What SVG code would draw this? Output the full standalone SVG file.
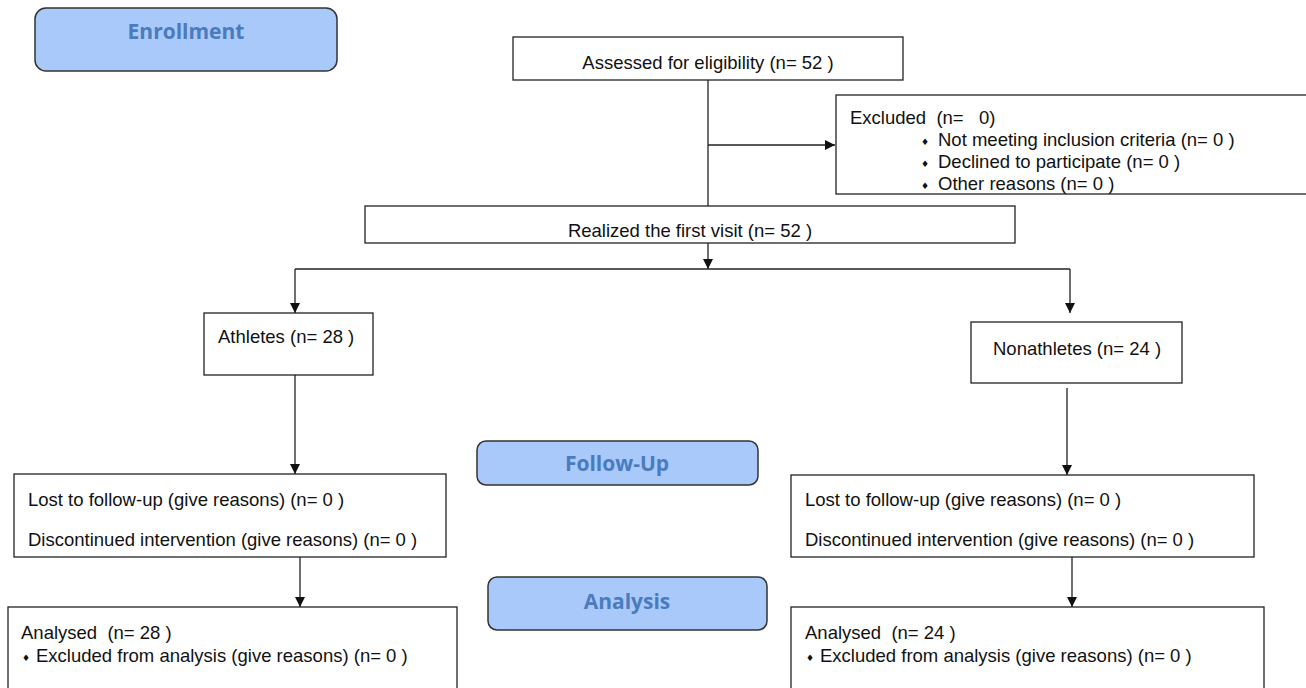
<svg xmlns="http://www.w3.org/2000/svg" width="1306" height="688" viewBox="0 0 1306 688">
<style>
.box{fill:#fff;stroke:#222;stroke-width:1.3}
.phase{fill:#a9c9fa;stroke:#333;stroke-width:1.5}
.t{font-family:"Liberation Sans",Arial,sans-serif;font-size:18.5px;fill:#111}
.b{font-family:"DejaVu Sans",sans-serif;font-size:9px;fill:#111}
.pt{font-family:"Open Sans","Liberation Sans",sans-serif;font-size:21px;font-weight:bold;fill:#4a7bbd;text-anchor:middle}
.c{text-anchor:middle}
.ln{fill:none;stroke:#222;stroke-width:1.3}
</style>
<defs>
<marker id="ah" viewBox="0 0 10 10" refX="10" refY="5" markerWidth="10" markerHeight="10" markerUnits="userSpaceOnUse" orient="auto">
<path d="M0,0 L10,5 L0,10 z" fill="#111"/>
</marker>
</defs>
<g id="phase-enrollment">
<rect class="phase" x="35" y="8" width="302" height="63" rx="11"/>
<text class="pt" x="186" y="39">Enrollment</text>
</g>
<g id="phase-followup">
<rect class="phase" x="477" y="441" width="281" height="44" rx="9"/>
<text class="pt" x="617" y="471">Follow-Up</text>
</g>
<g id="phase-analysis">
<rect class="phase" x="488" y="577" width="279" height="53" rx="9"/>
<text class="pt" x="627" y="609">Analysis</text>
</g>
<g id="connectors">
<line class="ln" x1="708" y1="80" x2="708" y2="206"/>
<line class="ln" x1="708" y1="145" x2="835" y2="145" marker-end="url(#ah)"/>
<line class="ln" x1="708" y1="243" x2="708" y2="269" marker-end="url(#ah)"/>
<line class="ln" x1="295" y1="269" x2="1070" y2="269"/>
<line class="ln" x1="295" y1="269" x2="295" y2="313" marker-end="url(#ah)"/>
<line class="ln" x1="1070" y1="269" x2="1070" y2="313" marker-end="url(#ah)"/>
<line class="ln" x1="295" y1="375" x2="295" y2="474" marker-end="url(#ah)"/>
<line class="ln" x1="1067" y1="388" x2="1067" y2="475" marker-end="url(#ah)"/>
<line class="ln" x1="300" y1="557" x2="300" y2="607" marker-end="url(#ah)"/>
<line class="ln" x1="1072" y1="557" x2="1072" y2="607" marker-end="url(#ah)"/>
</g>
<g id="assessed">
<rect class="box" x="513" y="37" width="390" height="43"/>
<text class="t c" x="708" y="69">Assessed for eligibility (n= 52 )</text>
</g>
<g id="excluded">
<rect class="box" x="836" y="95" width="475" height="99"/>
<text class="t" x="850" y="124" xml:space="preserve">Excluded  (n=   0)</text>
<text class="b" x="921" y="145">♦</text>
<text class="t" x="938" y="146">Not meeting inclusion criteria (n= 0 )</text>
<text class="b" x="921" y="167">♦</text>
<text class="t" x="938" y="168">Declined to participate (n= 0 )</text>
<text class="b" x="921" y="189">♦</text>
<text class="t" x="938" y="190">Other reasons (n= 0 )</text>
</g>
<g id="realized">
<rect class="box" x="365" y="206" width="650" height="37"/>
<text class="t c" x="690" y="237">Realized the first visit (n= 52 )</text>
</g>
<g id="athletes">
<rect class="box" x="204" y="313" width="169" height="62"/>
<text class="t" x="218" y="343">Athletes (n= 28 )</text>
</g>
<g id="nonathletes">
<rect class="box" x="971" y="322" width="211" height="61"/>
<text class="t" x="993" y="355">Nonathletes (n= 24 )</text>
</g>
<g id="lost-athletes">
<rect class="box" x="14" y="474" width="432" height="83"/>
<text class="t" x="28" y="506">Lost to follow-up (give reasons) (n= 0 )</text>
<text class="t" x="28" y="546">Discontinued intervention (give reasons) (n= 0 )</text>
</g>
<g id="lost-nonathletes">
<rect class="box" x="791" y="475" width="463" height="82"/>
<text class="t" x="805" y="506">Lost to follow-up (give reasons) (n= 0 )</text>
<text class="t" x="805" y="546">Discontinued intervention (give reasons) (n= 0 )</text>
</g>
<g id="analysed-athletes">
<rect class="box" x="8" y="607" width="449" height="90"/>
<text class="t" x="21" y="639" xml:space="preserve">Analysed  (n= 28 )</text>
<text class="b" x="22" y="661">♦</text>
<text class="t" x="36" y="662">Excluded from analysis (give reasons) (n= 0 )</text>
</g>
<g id="analysed-nonathletes">
<rect class="box" x="791" y="607" width="473" height="90"/>
<text class="t" x="805" y="639" xml:space="preserve">Analysed  (n= 24 )</text>
<text class="b" x="806" y="661">♦</text>
<text class="t" x="820" y="662">Excluded from analysis (give reasons) (n= 0 )</text>
</g>
</svg>
